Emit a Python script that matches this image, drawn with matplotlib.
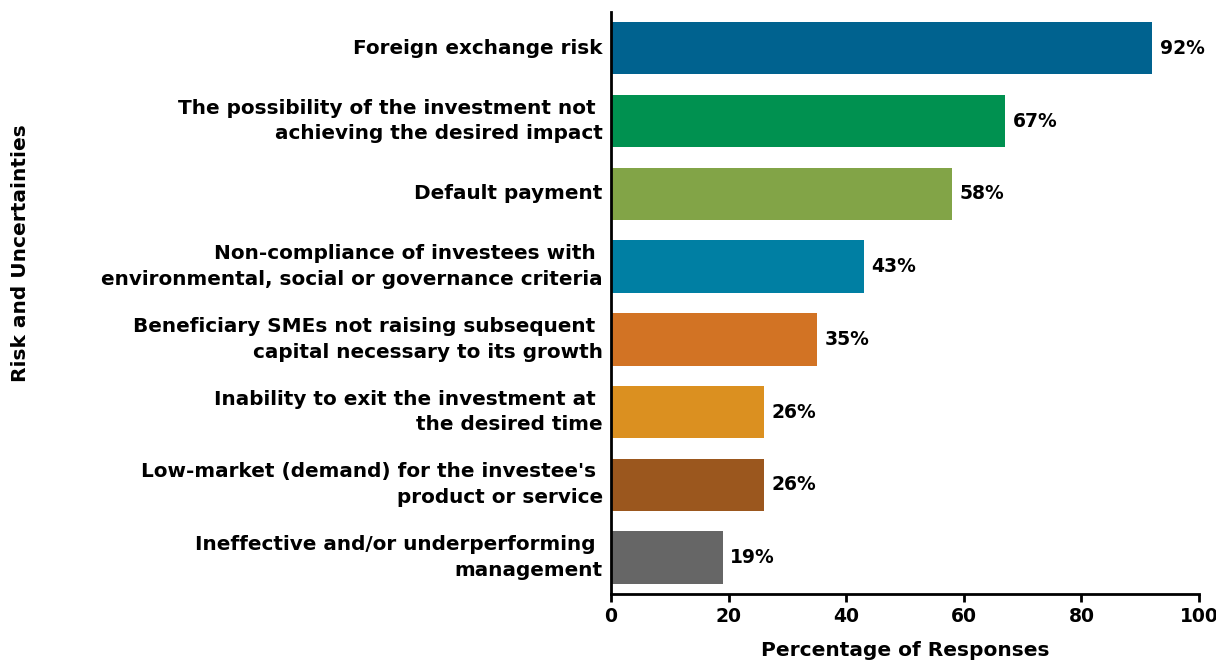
import matplotlib
matplotlib.use("Agg")
import matplotlib.pyplot as plt

# data
categories = [
    "Foreign exchange risk",
    "The possibility of the investment not \nachieving the desired impact",
    "Default payment",
    "Non-compliance of investees with \nenvironmental, social or governance criteria",
    "Beneficiary SMEs not raising subsequent \ncapital necessary to its growth",
    "Inability to exit the investment at \nthe desired time",
    "Low-market (demand) for the investee's \nproduct or service",
    "Ineffective and/or underperforming \nmanagement",
]
values = [92, 67, 58, 43, 35, 26, 26, 19]
colors = ["#00628F", "#009150", "#82A447", "#007FA3",
          "#D27324", "#DB9020", "#9B571E", "#666666"]

plt.rcParams['font.family'] = ['DejaVu Sans']
plt.rcParams['font.weight'] = 'bold'

fig = plt.figure(figsize=(12.16, 6.62), dpi=100)
ax = fig.add_axes([0.5025, 0.1027, 0.4835, 0.8793])

pos = list(range(len(values)))
ax.barh(pos, values, height=0.72, color=colors)
for p, v in zip(pos, values):
    ax.text(v + 1.3, p, f"{v}%", va='center', ha='left', fontsize=13.5, fontweight='bold')

ax.set_ylim(7.5, -0.5)
ax.set_xlim(0, 100)
ax.set_yticks(pos)
ax.set_yticklabels(categories, fontsize=14.4, fontweight='bold', linespacing=1.45, va='center')
ax.set_xticks([0, 20, 40, 60, 80, 100])
ax.tick_params(axis='y', length=0, pad=6)
ax.tick_params(axis='x', length=6, width=2, labelsize=13.5, pad=3)
for t in ax.get_xticklabels():
    t.set_fontweight('bold')

for s in ['top', 'right']:
    ax.spines[s].set_visible(False)
for s in ['left', 'bottom']:
    ax.spines[s].set_linewidth(2)

ax.set_xlabel("Percentage of Responses", fontsize=14.5, fontweight='bold', labelpad=11)
fig.text(0.017, 0.617, "Risk and Uncertainties", rotation=90, va='center', ha='center',
         fontsize=14.5, fontweight='bold')

fig.savefig("out.png", dpi=100)
